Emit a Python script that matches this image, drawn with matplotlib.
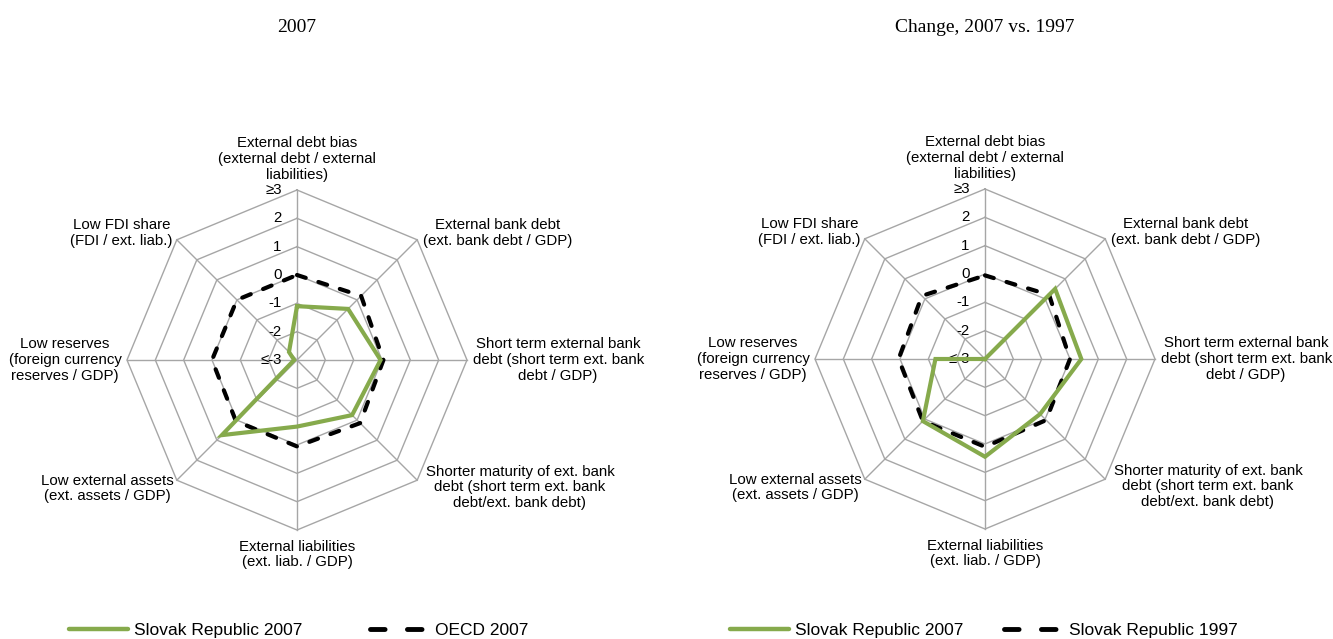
import numpy as np
import matplotlib
matplotlib.use("Agg")
import matplotlib.pyplot as plt
from matplotlib.lines import Line2D

plt.rcParams['font.family'] = ['Liberation Sans', 'DejaVu Sans']

axis_labels = [
    "External debt bias\n(external debt / external\nliabilities)",
    "External bank debt\n(ext. bank debt / GDP)",
    "Short term external bank\ndebt (short term ext. bank\ndebt / GDP)",
    "Shorter maturity of ext. bank\ndebt (short term ext. bank\ndebt/ext. bank debt)",
    "External liabilities\n(ext. liab. / GDP)",
    "Low external assets\n(ext. assets / GDP)",
    "Low reserves\n(foreign currency\nreserves / GDP)",
    "Low FDI share\n(FDI / ext. liab.)",
]
tick_vals = [-3, -2, -1, 0, 1, 2, 3]
tick_labels = ["\u2264-3", "-2", "-1", "0", "1", "2", "\u22653"]

# left panel: 2007
slovak_2007 = [-1.1, -0.45, -0.05, -0.25, -0.65, 0.75, -2.9, -2.6]
oecd_2007 = [0.0, 0.2, 0.05, 0.15, 0.05, 0.05, 0.0, 0.0]

# right panel: change 2007 vs 1997
slovak_change_2007 = [-3.0, 0.5, 0.4, -0.25, 0.45, 0.1, -1.25, -3.0]
slovak_change_1997 = [-0.05, 0.2, 0.0, 0.05, 0.1, 0.1, 0.05, 0.15]

titles = ["2007", "Change, 2007 vs. 1997"]
legend_names = [("Slovak Republic 2007", "OECD 2007"),
                ("Slovak Republic 2007", "Slovak Republic 1997")]

green = '#86AA4C'
grid_col = '#A6A6A6'

n = len(axis_labels)
theta = np.arange(n) * 2 * np.pi / n
theta_c = np.append(theta, theta[0])

# (ha, va, dx, dy) in points for each axis label
label_pos = [
    ('center', 'bottom', 0, 6),
    ('left', 'center', 4, 5),
    ('left', 'center', 4, 0),
    ('left', 'center', 6, -5),
    ('center', 'top', 0, -7),
    ('right', 'center', -2, -6),
    ('right', 'center', -4, 0),
    ('right', 'center', -3, 5),
]

fig = plt.figure(figsize=(13.33, 6.39), dpi=100)

centers = [(297, 360), (985, 359)]
R = 170
W, H = 1333, 639

def radar(ax, a, b):
    ax.set_theta_zero_location('N')
    ax.set_theta_direction(-1)
    ax.set_ylim(-3, 3)
    ax.set_axis_off()
    for lv in tick_vals[1:]:
        ax.plot(theta_c, [lv] * (n + 1), color=grid_col, lw=1.0, zorder=1, clip_on=False)
    for t in theta:
        ax.plot([t, t], [-3, 3], color=grid_col, lw=1.0, zorder=1, clip_on=False)
    for v, s in zip(tick_vals, tick_labels):
        ax.annotate(s, xy=(0, v), xytext=(-11, 0), textcoords='offset points',
                    ha='right', va='center', fontsize=10.8, zorder=2)
    for t, lab, (ha, va, dx, dy) in zip(theta, axis_labels, label_pos):
        ax.annotate(lab, xy=(t, 3), xytext=(dx, dy), textcoords='offset points',
                    ha=ha, va=va, multialignment='center', fontsize=10.8,
                    linespacing=1.15)
    ax.plot(theta_c, np.append(b, b[0]), color='black', lw=3,
            dashes=(2.2, 3.2), dash_capstyle='round', zorder=4, clip_on=False)
    ax.plot(theta_c, np.append(a, a[0]), color=green, lw=3, zorder=5,
            solid_joinstyle='miter', clip_on=False)

data = [(slovak_2007, oecd_2007), (slovak_change_2007, slovak_change_1997)]
legend_x = [69, 730]
col_space = [3.9, 2.35]

for i, ((cx, cy), (a, b)) in enumerate(zip(centers, data)):
    ax = fig.add_axes([(cx - R) / W, (H - cy - R) / H, 2 * R / W, 2 * R / H],
                      projection='polar')
    radar(ax, a, b)
    fig.text(cx / W, 1 - 27 / H, titles[i], ha='center', va='center',
             fontsize=14, family='Liberation Serif')
    handles = [Line2D([], [], color=green, lw=3.2, solid_capstyle='round'),
               Line2D([], [], color='black', lw=3.5, dashes=(3.0, 4.6),
                      dash_capstyle='round')]
    fig.legend(handles, legend_names[i], loc='center left',
               bbox_to_anchor=(legend_x[i] / W, 1 - 630 / H), ncol=2,
               frameon=False, fontsize=12.5, handlelength=3.4,
               handletextpad=0.35, columnspacing=col_space[i],
               borderpad=0, borderaxespad=0)

fig.savefig('out.png', dpi=100)
